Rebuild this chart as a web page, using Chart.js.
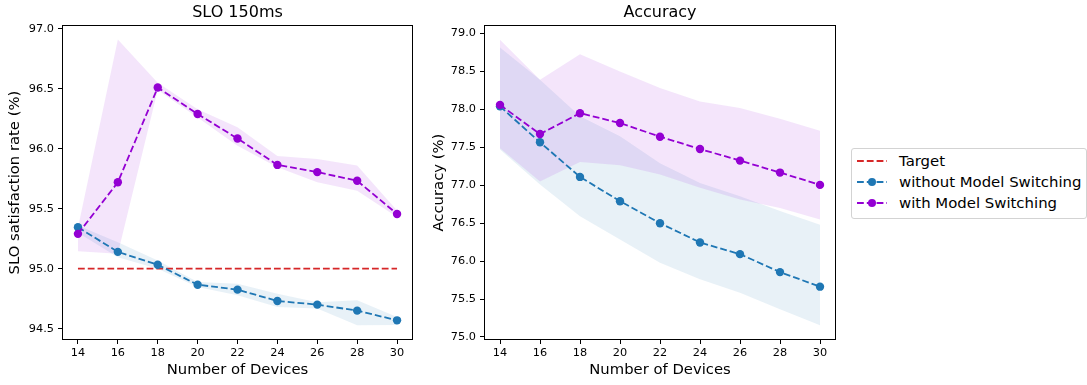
<!DOCTYPE html>
<html><head><meta charset="utf-8">
<script src="https://cdn.jsdelivr.net/npm/chart.js@4.4.0/dist/chart.umd.min.js"></script>
<style>
html,body{margin:0;padding:0;background:#fff;width:1087px;height:385px;overflow:hidden;}
canvas{position:absolute;top:0;}
#c1{left:0;}
#c2{left:420px;}
#legend{position:absolute;left:851px;top:148px;width:236px;height:71px;box-sizing:border-box;border:1px solid #d3d3d3;border-radius:3px;background:#fff;font-family:'DejaVu Sans';font-size:14.9px;color:#000;}
.item{position:absolute;left:5px;height:20px;display:flex;align-items:center;white-space:nowrap;}
.item svg{margin-right:12px;display:block}
</style></head>
<body>
<canvas id="c1" width="430" height="385"></canvas>
<canvas id="c2" width="430" height="385"></canvas>
<div id="legend">
  <div class="item" style="top:2px"><svg width="30" height="10"><line x1="0" y1="5" x2="30" y2="5" stroke="#d62728" stroke-width="1.8" stroke-dasharray="6.8 3"/></svg><span>Target</span></div>
  <div class="item" style="top:23px"><svg width="30" height="10"><line x1="0" y1="5" x2="30" y2="5" stroke="#1f77b4" stroke-width="1.8" stroke-dasharray="6.8 3"/><circle cx="15" cy="5" r="4" fill="#1f77b4"/></svg><span>without Model Switching</span></div>
  <div class="item" style="top:44px"><svg width="30" height="10"><line x1="0" y1="5" x2="30" y2="5" stroke="#9400d3" stroke-width="1.8" stroke-dasharray="6.8 3"/><circle cx="15" cy="5" r="4" fill="#9400d3"/></svg><span>with Model Switching</span></div>
</div>
<script>
// ---- data ----
const devices = [14, 16, 18, 20, 22, 24, 26, 28, 30];
const xTicks = [14, 16, 18, 20, 22, 24, 26, 28, 30];

const sloTargetX = [14, 30];
const sloTargetY = [95.0, 95.0];
const sloWith = [95.29, 95.72, 96.51, 96.29, 96.085, 95.865, 95.805, 95.733, 95.456];
const sloWithUpper = [95.34, 96.91, 96.55, 96.33, 96.18, 95.94, 95.915, 95.86, 95.485];
const sloWithLower = [95.145, 95.125, 96.49, 96.26, 96.025, 95.845, 95.72, 95.65, 95.43];
const sloWithout = [95.345, 95.14, 95.032, 94.866, 94.825, 94.73, 94.70, 94.65, 94.569];
const sloWithoutUpper = [95.36, 95.22, 95.068, 94.889, 94.875, 94.79, 94.72, 94.736, 94.597];
const sloWithoutLower = [95.30, 95.096, 95.0, 94.847, 94.778, 94.68, 94.667, 94.528, 94.53];
const sloTicks = [94.5, 95.0, 95.5, 96.0, 96.5, 97.0];

const accWith = [78.06, 77.675, 77.95, 77.82, 77.64, 77.478, 77.325, 77.167, 77.005];
const accWithUpper = [78.917, 78.39, 78.728, 78.5, 78.281, 78.105, 78.018, 77.878, 77.72];
const accWithLower = [77.487, 77.05, 77.307, 77.263, 77.141, 76.966, 76.812, 76.70, 76.549];
const accWithout = [78.04, 77.566, 77.11, 76.79, 76.50, 76.246, 76.092, 75.855, 75.663];
const accWithoutUpper = [78.816, 78.39, 77.91, 77.645, 77.29, 77.03, 76.855, 76.66, 76.48];
const accWithoutLower = [77.47, 77.01, 76.59, 76.285, 75.98, 75.76, 75.584, 75.364, 75.154];
const accTicks = [75.0, 75.5, 76.0, 76.5, 77.0, 77.5, 78.0, 78.5, 79.0];

// ---- styling ----
const BLUE = '#1f77b4', PURPLE = '#9400d3', RED = '#d62728';
const BLUE_BAND = 'rgba(31,119,180,0.1)', PURPLE_BAND = 'rgba(148,0,211,0.1)';
const FONT = 'DejaVu Sans';
const DASH = [6.8, 3];

const pts = (xs, ys) => xs.map((x, i) => ({x: x, y: ys[i]}));

function lineDs(label, ys, color, order) {
  return {label, data: pts(devices, ys), borderColor: color, backgroundColor: color,
    borderWidth: 1.8, borderDash: DASH, pointRadius: 4.2, pointHoverRadius: 4.2,
    pointBackgroundColor: color, pointBorderWidth: 0, fill: false, order};
}
function bandDs(ys, color, fill, order) {
  return {data: pts(devices, ys), borderColor: 'transparent', borderWidth: 0, backgroundColor: color,
    pointRadius: 0, fill, order};
}

const boxPlugin = {
  id: 'box',
  afterDraw(chart) {
    const {ctx, chartArea: a} = chart;
    ctx.save();
    ctx.strokeStyle = '#000';
    ctx.lineWidth = 1;
    ctx.strokeRect(Math.round(a.left) + 0.5, Math.round(a.top) + 0.5, Math.round(a.right - a.left) - 1, Math.round(a.bottom - a.top) - 1);
    ctx.restore();
  }
};

function makeOptions(title, yTitle, yMin, yMax, yTicks, yWidth, yTitlePad, padRight) {
  return {
    responsive: false, animation: false,
    layout: {padding: {left: 0, right: padRight, top: 0, bottom: 0}},
    plugins: {
      legend: {display: false}, tooltip: {enabled: false},
      filler: {drawTime: 'beforeDatasetsDraw'},
      title: {display: true, text: title, fullSize: false, color: '#000',
        font: {family: FONT, size: 16, weight: 'normal', lineHeight: 1.2}, padding: {top: 3, bottom: 3}}
    },
    scales: {
      x: {type: 'linear', min: 13.2, max: 30.8,
        afterBuildTicks: s => { s.ticks = xTicks.map(v => ({value: v})); },
        afterFit: s => { s.height = 45; s.paddingLeft = 0; s.paddingRight = 0; },
        grid: {drawOnChartArea: false, tickLength: 4, tickColor: '#000', tickWidth: 1},
        border: {display: false},
        ticks: {color: '#000', font: {family: FONT, size: 11.3}, padding: 2, maxRotation: 0, autoSkip: false,
          callback: v => String(v)},
        title: {display: true, text: 'Number of Devices', color: '#000',
          font: {family: FONT, size: 14.8, lineHeight: 1.2}, padding: {top: 0, bottom: 5.6}}
      },
      y: {type: 'linear', min: yMin, max: yMax,
        afterBuildTicks: s => { s.ticks = yTicks.map(v => ({value: v})); },
        afterFit: s => { s.width = yWidth; s.paddingTop = 0; s.paddingBottom = 0; },
        grid: {drawOnChartArea: false, tickLength: 4, tickColor: '#000', tickWidth: 1},
        border: {display: false},
        ticks: {color: '#000', font: {family: FONT, size: 11.3}, padding: 4, autoSkip: false,
          callback: v => Number(v).toFixed(1)},
        title: {display: true, text: yTitle, color: '#000',
          font: {family: FONT, size: 14.8, lineHeight: 1.2}, padding: {top: yTitlePad, bottom: 0}}
      }
    }
  };
}

new Chart(document.getElementById('c1'), {
  type: 'line',
  data: {datasets: [
    lineDs('with Model Switching', sloWith, PURPLE, 0),
    lineDs('without Model Switching', sloWithout, BLUE, 1),
    {label: 'Target', data: pts(sloTargetX, sloTargetY), borderColor: RED, borderWidth: 1.8, borderDash: DASH,
      pointRadius: 0, fill: false, order: 2},
    bandDs(sloWithUpper, PURPLE_BAND, '+1', 3),
    bandDs(sloWithLower, PURPLE_BAND, false, 4),
    bandDs(sloWithoutUpper, BLUE_BAND, '+1', 5),
    bandDs(sloWithoutLower, BLUE_BAND, false, 6)
  ]},
  options: makeOptions('SLO 150ms', 'SLO satisfaction rate (%)', 94.405, 97.03, sloTicks, 62, 6, 17),
  plugins: [boxPlugin]
});

new Chart(document.getElementById('c2'), {
  type: 'line',
  data: {datasets: [
    lineDs('with Model Switching', accWith, PURPLE, 0),
    lineDs('without Model Switching', accWithout, BLUE, 1),
    bandDs(accWithUpper, PURPLE_BAND, '+1', 3),
    bandDs(accWithLower, PURPLE_BAND, false, 4),
    bandDs(accWithoutUpper, BLUE_BAND, '+1', 5),
    bandDs(accWithoutLower, BLUE_BAND, false, 6)
  ]},
  options: makeOptions('Accuracy', 'Accuracy (%)', 74.96, 79.11, accTicks, 64, 10, 14),
  plugins: [boxPlugin]
});
</script>
</body></html>
